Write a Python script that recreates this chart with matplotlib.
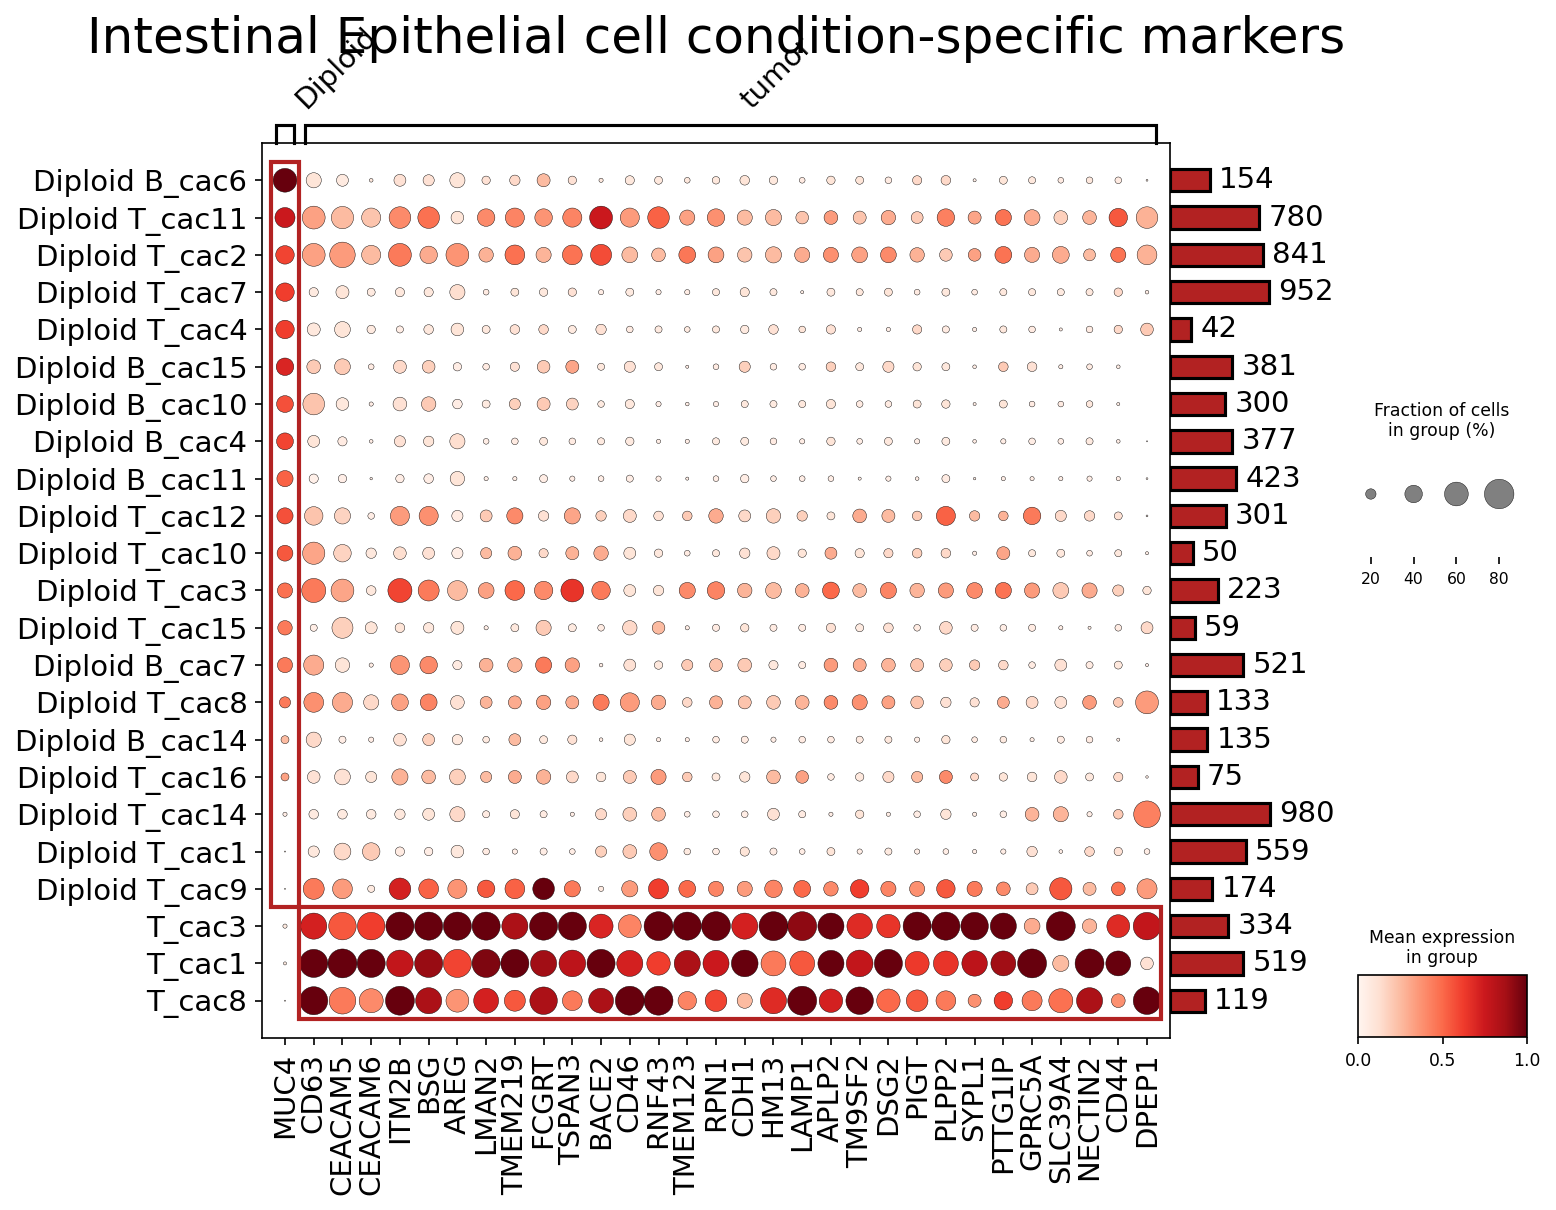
import numpy as np
import matplotlib
matplotlib.use("Agg")
import matplotlib.pyplot as plt
from matplotlib.patches import Rectangle
from matplotlib.cm import ScalarMappable
from matplotlib.colors import Normalize

# --- data ---
genes = ['MUC4', 'CD63', 'CEACAM5', 'CEACAM6', 'ITM2B', 'BSG', 'AREG', 'LMAN2',
         'TMEM219', 'FCGRT', 'TSPAN3', 'BACE2', 'CD46', 'RNF43', 'TMEM123', 'RPN1',
         'CDH1', 'HM13', 'LAMP1', 'APLP2', 'TM9SF2', 'DSG2', 'PIGT', 'PLPP2', 'SYPL1',
         'PTTG1IP', 'GPRC5A', 'SLC39A4', 'NECTIN2', 'CD44', 'DPEP1']

groups = ['Diploid B_cac6', 'Diploid T_cac11', 'Diploid T_cac2', 'Diploid T_cac7',
          'Diploid T_cac4', 'Diploid B_cac15', 'Diploid B_cac10', 'Diploid B_cac4',
          'Diploid B_cac11', 'Diploid T_cac12', 'Diploid T_cac10', 'Diploid T_cac3',
          'Diploid T_cac15', 'Diploid B_cac7', 'Diploid T_cac8', 'Diploid B_cac14',
          'Diploid T_cac16', 'Diploid T_cac14', 'Diploid T_cac1', 'Diploid T_cac9',
          'T_cac3', 'T_cac1', 'T_cac8']

cell_counts = [154, 780, 841, 952, 42, 381, 300, 377, 423, 301, 50, 223, 59, 521,
               133, 135, 75, 980, 559, 174, 334, 519, 119]

var_group_labels = ['Diploid', 'tumor']
var_group_positions = [(0, 0), (1, 30)]

# fraction of cells expressing (%) per group x gene
frac = [
    [60,33,24,5,24,22,33,15,20,27,15,6,17,14,9,13,18,15,9,15,14,11,17,18,4,14,12,9,11,11,2],
    [48,57,55,45,53,53,26,40,45,40,45,57,45,53,33,40,33,36,26,29,27,31,24,40,27,36,35,29,29,43,53],
    [43,57,66,45,57,40,57,31,47,33,47,51,35,29,38,35,31,36,33,33,35,35,31,26,26,38,33,38,24,33,47],
    [43,17,27,14,17,17,33,9,14,15,15,8,14,8,8,12,17,12,4,14,12,14,9,14,9,12,12,12,12,15,5],
    [43,27,35,15,12,18,26,14,18,18,14,20,11,12,9,12,15,18,11,17,6,6,17,12,6,12,11,4,11,15,26],
    [40,29,35,9,27,26,15,11,17,26,27,12,22,14,4,9,22,11,11,18,14,22,15,14,5,18,18,6,9,5,0],
    [38,53,26,6,29,31,18,14,22,27,24,11,17,8,5,8,12,12,12,17,11,11,14,15,4,14,9,9,11,4,0],
    [38,24,17,5,22,20,33,9,11,14,11,12,15,6,6,12,14,11,8,15,9,14,8,14,5,8,11,9,12,5,1],
    [36,17,15,3,15,18,31,6,6,14,8,9,12,8,4,9,15,9,9,9,4,8,5,14,3,6,6,6,8,6,2],
    [36,43,36,11,45,45,22,24,36,20,36,20,27,18,18,31,24,31,20,14,29,27,18,45,20,18,40,22,20,14,2],
    [35,55,40,20,26,24,22,22,29,17,27,31,24,15,9,12,20,27,15,24,17,17,18,18,6,27,12,14,9,12,4],
    [33,61,57,18,61,51,47,35,47,43,57,43,24,20,36,40,31,35,29,38,29,36,31,33,35,36,33,35,33,22,15],
    [31,12,51,24,18,20,27,6,14,33,14,11,31,26,6,12,15,12,12,17,14,18,11,26,12,11,12,6,4,11,24],
    [33,48,31,6,45,40,17,29,31,36,31,5,24,15,22,27,29,17,12,29,27,29,27,26,20,18,11,24,12,14,4],
    [22,47,48,33,38,38,29,24,27,31,27,36,45,31,18,27,27,29,29,29,33,27,26,20,17,24,24,24,29,18,57],
    [14,33,12,8,26,24,20,11,24,14,17,5,22,6,6,11,12,8,11,11,12,12,8,15,9,11,6,12,11,4,0],
    [14,26,35,22,36,29,35,22,27,31,24,18,27,33,18,14,20,29,26,11,15,22,22,27,14,15,18,26,14,17,3],
    [6,18,18,18,20,24,33,12,17,12,6,22,29,29,9,11,11,24,12,6,15,6,11,20,6,11,29,33,8,18,70],
    [1,22,38,40,17,15,26,11,8,12,9,22,29,40,11,11,17,12,9,14,8,12,8,9,6,8,20,5,18,15,9],
    [1,51,47,12,53,47,45,40,47,53,36,8,36,48,38,33,33,40,38,31,43,33,33,43,33,29,24,55,27,29,48],
    [6,68,73,73,75,75,75,75,68,75,75,61,57,78,75,78,68,78,78,68,66,59,75,75,73,68,35,78,31,57,73],
    [4,75,78,75,70,75,75,75,75,68,70,75,68,59,68,68,70,64,64,68,70,75,61,64,66,64,78,36,78,64,26],
    [1,75,70,61,78,68,57,64,51,73,47,64,78,78,43,53,33,68,78,59,73,59,53,47,27,43,48,61,68,29,73],
]

# scaled mean expression per group x gene
expr = [
    [1.0,.1,.07,.08,.12,.12,.1,.12,.15,.25,.12,.08,.08,.08,.08,.08,.1,.08,.06,.1,.1,.06,.15,.15,.05,.1,.08,.06,.08,.06,.05],
    [.75,.33,.25,.22,.4,.48,.1,.4,.42,.37,.42,.75,.35,.52,.33,.38,.25,.25,.22,.35,.22,.3,.2,.43,.32,.47,.3,.18,.27,.55,.28],
    [.6,.33,.35,.25,.45,.3,.37,.28,.48,.27,.47,.58,.25,.25,.46,.33,.22,.25,.3,.38,.33,.4,.28,.2,.33,.47,.3,.3,.25,.47,.28],
    [.62,.07,.1,.07,.08,.08,.13,.06,.1,.08,.12,.05,.07,.05,.05,.08,.1,.08,.05,.08,.08,.1,.06,.08,.06,.08,.08,.07,.08,.15,.05],
    [.62,.08,.1,.07,.05,.08,.1,.08,.12,.15,.07,.12,.06,.07,.07,.08,.07,.12,.1,.12,.05,.05,.15,.06,.05,.08,.06,.05,.06,.15,.2],
    [.7,.2,.2,.06,.15,.18,.05,.06,.12,.2,.32,.08,.12,.08,.05,.06,.18,.06,.06,.18,.08,.15,.1,.08,.05,.2,.12,.05,.06,.05,0],
    [.57,.22,.08,.05,.12,.2,.05,.07,.18,.2,.17,.07,.08,.05,.05,.05,.08,.07,.08,.1,.06,.06,.1,.1,.05,.1,.06,.06,.08,.05,0],
    [.6,.1,.06,.05,.12,.1,.13,.05,.06,.08,.06,.07,.07,.05,.05,.07,.07,.06,.05,.1,.05,.08,.05,.07,.05,.05,.05,.05,.07,.05,.05],
    [.52,.03,.04,.05,.05,.05,.1,.05,.05,.05,.05,.05,.05,.05,.05,.05,.05,.05,.05,.05,.05,.05,.05,.06,.05,.05,.05,.05,.05,.05,.05],
    [.57,.22,.17,.05,.35,.38,.06,.2,.4,.12,.32,.18,.15,.12,.2,.3,.15,.18,.18,.1,.3,.25,.2,.52,.25,.28,.45,.15,.15,.12,.05],
    [.55,.32,.17,.08,.13,.12,.05,.25,.28,.15,.28,.3,.1,.08,.06,.08,.12,.15,.1,.3,.1,.15,.18,.15,.05,.32,.08,.08,.06,.08,.05],
    [.48,.45,.32,.08,.6,.45,.25,.33,.5,.4,.65,.45,.1,.1,.4,.42,.27,.25,.28,.5,.25,.42,.27,.35,.4,.47,.35,.2,.3,.18,.1],
    [.45,.05,.18,.1,.1,.08,.1,.05,.08,.2,.07,.06,.15,.25,.05,.06,.1,.06,.06,.12,.07,.12,.06,.15,.06,.05,.06,.05,.05,.06,.15],
    [.45,.3,.1,.05,.37,.4,.06,.28,.28,.45,.33,.05,.12,.08,.2,.22,.2,.08,.06,.35,.3,.27,.22,.18,.2,.15,.06,.12,.06,.08,.05],
    [.45,.38,.3,.15,.33,.42,.12,.27,.3,.33,.3,.45,.35,.3,.15,.28,.22,.2,.27,.4,.38,.33,.22,.12,.12,.3,.15,.12,.35,.2,.35],
    [.25,.15,.05,.05,.12,.18,.08,.07,.25,.08,.12,.05,.1,.05,.05,.06,.06,.05,.06,.06,.07,.08,.05,.1,.06,.07,.05,.06,.06,.05,0],
    [.33,.12,.12,.1,.28,.25,.18,.25,.3,.28,.15,.1,.2,.35,.2,.08,.1,.25,.33,.06,.08,.15,.25,.4,.15,.1,.1,.15,.08,.15,.05],
    [.05,.07,.07,.07,.08,.1,.15,.06,.1,.06,.05,.15,.18,.25,.05,.05,.05,.12,.06,.05,.1,.05,.05,.1,.05,.05,.27,.27,.05,.2,.43],
    [.1,.08,.15,.2,.06,.05,.08,.06,.05,.05,.05,.18,.2,.38,.07,.05,.1,.06,.05,.1,.05,.07,.05,.05,.05,.05,.12,.05,.15,.12,.05],
    [.1,.45,.35,.07,.72,.52,.37,.55,.52,1.0,.45,.07,.35,.62,.5,.42,.35,.42,.5,.4,.62,.42,.38,.55,.45,.4,.2,.55,.25,.48,.35],
    [.07,.72,.55,.62,1,1,1,1,.85,1,1,.7,.42,1,1,1,.72,1,.92,1,.68,.65,1,1,1,1,.3,1,.27,.68,.78],
    [.07,1,1,1,.78,.9,.6,.95,1,.88,.8,1,.72,.62,.85,.75,1,.45,.55,1,.78,1,.63,.65,.8,.88,1,.25,1,1,.12],
    [.1,1,.45,.4,1,.85,.37,.72,.55,.85,.45,.85,1,1,.42,.6,.25,.68,1,.72,1,.5,.55,.45,.38,.62,.45,.48,.85,.38,1],
]

legend_fracs = [20, 40, 60, 80]

DOT_MAX = 80.0
LARGEST = 200.0
HIGHLIGHT = '#b22222'


def dot_size(f):
    f = np.clip(np.asarray(f, dtype=float) / DOT_MAX, 0, 1)
    return f ** 1.5 * LARGEST


W, H = 1556, 1210
fig = plt.figure(figsize=(W / 150, H / 150), dpi=150)


def px_axes(x0, y0, x1, y1):
    # axes from pixel box (top-left origin)
    return fig.add_axes([x0 / W, 1 - y1 / H, (x1 - x0) / W, (y1 - y0) / H])


n_rows, n_cols = len(groups), len(genes)
frac_arr = np.array(frac, dtype=float)
expr_arr = np.array(expr, dtype=float)

# --- main dot plot ---
ax = px_axes(262, 143, 1170, 1038)
yy, xx = np.mgrid[0:n_rows, 0:n_cols]
ax.scatter(xx.ravel() + 0.5, yy.ravel() + 0.5, s=dot_size(frac_arr.ravel()),
           c=expr_arr.ravel(), cmap='Reds', vmin=0, vmax=1,
           edgecolors='black', linewidths=0.2, zorder=3)
ax.set_xlim(-0.3, n_cols + 0.3)
ax.set_ylim(n_rows + 0.5, -0.5)
ax.set_xticks(np.arange(n_cols) + 0.5)
ax.set_xticklabels(genes, rotation=90, fontsize=14)
ax.set_yticks(np.arange(n_rows) + 0.5)
ax.set_yticklabels(groups, fontsize=14)
ax.tick_params(axis='both', which='both', length=3.5)

ax.add_patch(Rectangle((0, 0), 1, 20, fill=False, edgecolor=HIGHLIGHT,
                       linewidth=2, clip_on=False, zorder=5))
ax.add_patch(Rectangle((1, 20), 30, 3, fill=False, edgecolor=HIGHLIGHT,
                       linewidth=2, clip_on=False, zorder=5))

# --- gene group brackets ---
gax = px_axes(262, 103, 1170, 143)
gax.set_xlim(ax.get_xlim())
gax.set_ylim(0, 1)
gax.axis('off')
top = 18 / 40
for label, (start, end) in zip(var_group_labels, var_group_positions):
    left, right = start + 0.2, end + 0.8
    gax.plot([left, left, right, right], [0, top, top, 0], color='black',
             linewidth=1.5, clip_on=False, solid_joinstyle='miter')
    gax.text((left + right) / 2 + 0.2, 0.72, label, rotation=45, ha='left',
             va='bottom', fontsize=14)

# --- totals bar plot ---
bax = px_axes(1170, 143, 1290, 1038)
bax.set_xscale('function', functions=(np.sqrt, np.square))
bax.barh(np.arange(n_rows) + 0.5, cell_counts, height=0.6, color=HIGHLIGHT,
         edgecolor='black', linewidth=1.5)
bax.set_xlim(0, (120 / 3.2) ** 2)
bax.set_ylim(ax.get_ylim())
for i, v in enumerate(cell_counts):
    bax.annotate(str(v), (v, i + 0.5), xytext=(4.5, 0), textcoords='offset points',
                 va='center', ha='left', fontsize=14, annotation_clip=False)
bax.axis('off')

# --- size legend ---
sax = px_axes(1358, 457, 1527, 557)
lx = np.arange(len(legend_fracs)) + 0.5
sax.scatter(lx, np.zeros(len(lx)), s=dot_size(legend_fracs), color='gray',
            edgecolor='black', linewidth=0.2, zorder=100)
sax.set_xlim(0.2, 4.15)
sax.set_ylim(-63, 37)
sax.set_xticks(lx)
sax.set_xticklabels([str(f) for f in legend_fracs], fontsize=7.5)
sax.set_yticks([])
for sp in sax.spines.values():
    sp.set_visible(False)
fig.text(1442 / W, 1 - 421 / H, 'Fraction of cells\nin group (%)', ha='center',
         va='center', fontsize=8.3, multialignment='center')

# --- colorbar ---
cax = px_axes(1358, 975, 1527, 1037)
sm = ScalarMappable(norm=Normalize(0, 1), cmap='Reds')
cb = fig.colorbar(sm, cax=cax, orientation='horizontal', ticks=[0, 0.5, 1])
cb.ax.tick_params(labelsize=8.3)
fig.text(1442 / W, 1 - 948 / H, 'Mean expression\nin group', ha='center',
         va='center', fontsize=8.3, multialignment='center')

fig.text(716 / W, 1 - 53 / H, 'Intestinal Epithelial cell condition-specific markers',
         ha='center', va='baseline', fontsize=24)

fig.savefig('out.png', dpi=150)
